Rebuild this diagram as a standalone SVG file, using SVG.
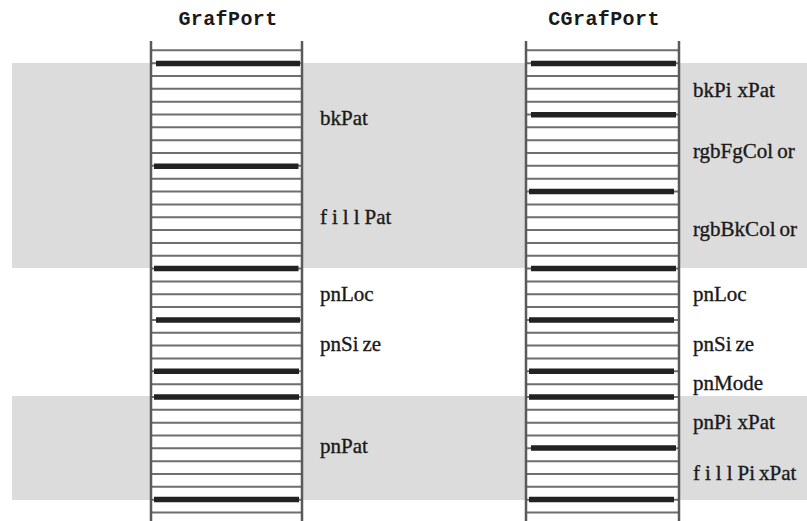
<svg xmlns="http://www.w3.org/2000/svg" width="807" height="521" viewBox="0 0 807 521">
  <style>
    .band { fill: #dcdcdc; }
    .cell { fill: #ffffff; }
    .rule { stroke: #6e6e6e; stroke-width: 2; }
    .edge { stroke: #5a5a5a; stroke-width: 2.5; }
    .field { stroke: #222222; stroke-width: 5.5; }
    .title { font-family: "Liberation Mono", "DejaVu Sans Mono", monospace; font-size: 20px; font-weight: bold; letter-spacing: 0.4px; fill: #1a1a1a; text-anchor: middle; }
    .label { font-family: "Liberation Serif", "DejaVu Serif", serif; font-size: 21px; fill: #1a1a1a; stroke: #1a1a1a; stroke-width: 0.35; }
  </style>
  <defs>
    <!-- 37 word-sized rows, 12.84 px apart -->
    <g id="rows">
      <path class="rule" d="M0 50.3H151 M0 63.14H151 M0 75.98H151 M0 88.82H151 M0 101.66H151 M0 114.5H151 M0 127.34H151 M0 140.18H151 M0 153.02H151 M0 165.86H151 M0 178.7H151 M0 191.54H151 M0 204.38H151 M0 217.22H151 M0 230.06H151 M0 242.9H151 M0 255.74H151 M0 268.58H151 M0 281.42H151 M0 294.26H151 M0 307.1H151 M0 319.94H151 M0 332.78H151 M0 345.62H151 M0 358.46H151 M0 371.3H151 M0 384.14H151 M0 396.98H151 M0 409.82H151 M0 422.66H151 M0 435.5H151 M0 448.34H151 M0 461.18H151 M0 474.02H151 M0 486.86H151 M0 499.7H151 M0 512.54H151"/>
    </g>
  </defs>

  <!-- shaded record regions -->
  <rect class="band" x="12" y="63" width="795" height="205"/>
  <rect class="band" x="12" y="396" width="795" height="104"/>

  <g id="grafport">
    <text class="title" x="228" y="25">GrafPort</text>
    <rect class="cell" x="151" y="41" width="151" height="480"/>
    <use href="#rows" x="151"/>
    <path class="edge" d="M151 41V521 M302 41V521"/>
    <path class="field" d="M156 63.6H300 M154 166.2H298.5 M154 268.6H298.5 M156 320H300 M154 371.2H299 M154 397H299 M154 499.5H299"/>
  </g>

  <g id="cgrafport">
    <text class="title" x="604" y="25">CGrafPort</text>
    <rect class="cell" x="526" y="41" width="153" height="480"/>
    <use href="#rows" x="526" transform="translate(526 0) scale(1.0132 1) translate(-526 0)"/>
    <path class="edge" d="M526 41V521 M679 41V521"/>
    <path class="field" d="M531 63.6H676 M531 114.8H676 M529 191.6H674 M531 268.6H676 M529 320H674 M529 371.2H674 M529 397H674 M531 448H676 M529 499.5H674"/>
  </g>

  <g id="grafport-fields">
    <text class="label" x="320" y="125">bkPat</text>
    <text class="label" x="320" y="224"><tspan letter-spacing="5">fill</tspan>Pat</text>
    <text class="label" x="320" y="301">pnLoc</text>
    <text class="label" x="320" y="351">pnSi<tspan dx="4">ze</tspan></text>
    <text class="label" x="320" y="453">pnPat</text>
  </g>

  <g id="cgrafport-fields">
    <text class="label" x="693" y="97">bkPi<tspan dx="6">xPat</tspan></text>
    <text class="label" x="693" y="158">rgbFgCol<tspan dx="4">or</tspan></text>
    <text class="label" x="693" y="236">rgbBkCol<tspan dx="4">or</tspan></text>
    <text class="label" x="693" y="301">pnLoc</text>
    <text class="label" x="693" y="351">pnSi<tspan dx="4">ze</tspan></text>
    <text class="label" x="693" y="390">pnMode</text>
    <text class="label" x="693" y="429">pnPi<tspan dx="6">xPat</tspan></text>
    <text class="label" x="693" y="480"><tspan letter-spacing="5">fill</tspan>Pi<tspan dx="4">xPat</tspan></text>
  </g>
</svg>
